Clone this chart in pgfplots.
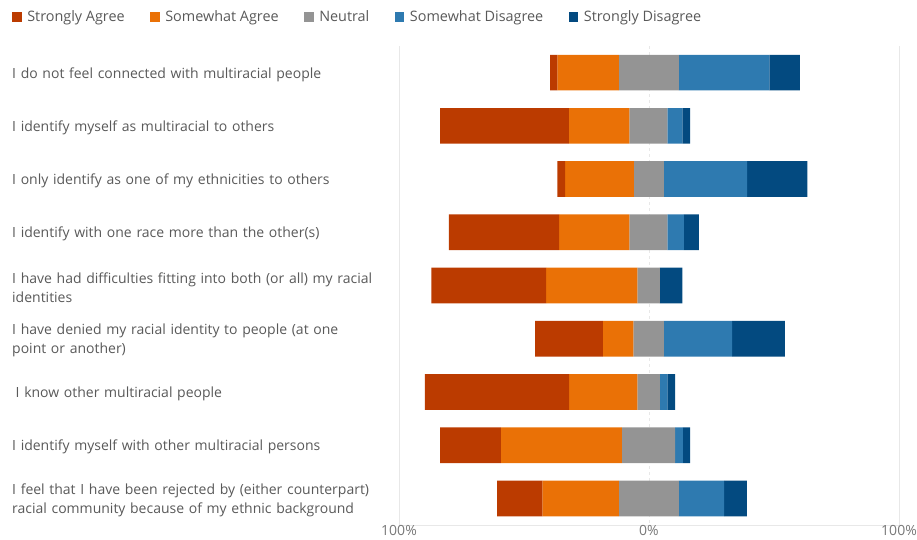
\documentclass[border=0pt]{standalone}
\usepackage{fontspec}
\setmainfont{Open Sans}
\usepackage{pgfplots}
\pgfplotsset{compat=1.18}
\usepackage{pgfplotstable}

\definecolor{csa}{RGB}{187,59,0}
\definecolor{ca}{RGB}{234,113,6}
\definecolor{cneu}{RGB}{148,148,148}
\definecolor{cswd}{RGB}{46,122,176}
\definecolor{csd}{RGB}{3,74,128}
\definecolor{lbl}{RGB}{89,89,89}
\definecolor{tick}{RGB}{120,120,120}
\definecolor{grd}{RGB}{232,232,232}

\pgfplotstableread{
y start SA A N SwD SD
1 -39.6 2.9 24.6 24.0 36.2 12.2
2 -83.6 51.5 24.2 15.2 6.0 3.1
3 -36.7 3.1 27.5 12.0 33.3 24.1
4 -80.1 44.1 28.1 15.2 6.6 6.0
5 -87.1 45.9 36.5 9.0 0 9.0
6 -45.6 27.1 12.2 12.2 27.3 21.1
7 -89.7 57.7 27.3 9.0 3.0 3.1
8 -83.6 24.3 48.4 21.3 3.1 2.9
9 -60.8 18.1 30.6 24.0 18.1 9.1
}\data

\begin{document}
\begin{tikzpicture}
\useasboundingbox (0,0) rectangle (917pt,-539pt);
\begin{axis}[
  at={(399pt,-525pt)}, anchor=south west,
  width=500pt, height=479pt, scale only axis,
  xmin=-100, xmax=100, ymin=0.5, ymax=9.5, y dir=reverse,
  xbar stacked, stack negative=on previous, bar width=35.7pt,
  axis x line*=bottom, axis y line*=left,
  x axis line style={draw=grd, line width=0.8pt, -},
  y axis line style={draw=none},
  xtick={-100,100}, xticklabels={100\%,100\%},
  extra x ticks={0}, extra x tick labels={0\%},
  extra x tick style={grid=major, major grid style={draw=grd, dashed, line width=0.8pt}},
  xmajorgrids, major grid style={draw=grd, line width=0.8pt},
  major tick length=0pt,
  xticklabel style={font=\fontsize{14}{16}\selectfont, text=tick, anchor=north, inner sep=0pt, yshift=-0.5pt},
  ytick={1,...,9},
  yticklabels={
    {I do not feel connected with multiracial people},
    {I identify myself as multiracial to others},
    {I only identify as one of my ethnicities to others},
    {I identify with one race more than the other(s)},
    {I have had difficulties fitting into both (or all) my racial\\identities},
    {I have denied my racial identity to people (at one\\point or another)},
    {\hspace*{3.5pt}I know other multiracial people},
    {I identify myself with other multiracial persons},
    {I feel that I have been rejected by (either counterpart)\\racial community because of my ethnic background}
  },
  yticklabel style={anchor=west, align=left, text width=385pt, inner sep=0pt, xshift=-387pt, yshift=-2pt,
    font=\fontsize{14}{19}\selectfont, text=lbl},
  legend columns=5,
  legend style={at={(-0.774,1.074)}, anchor=north west, draw=none, fill=none,
    font=\fontsize{14.4}{16}\selectfont, text=lbl, inner sep=0pt, nodes={inner sep=0pt},
    /tikz/every even column/.append style={column sep=25.5pt},
    /tikz/every odd column/.append style={column sep=5.5pt}},
  legend image code/.code={\fill[#1] (0pt,-4.8pt) rectangle (9.6pt,4.8pt);},
]
\addplot[draw=none, fill=none, forget plot] table[x=start, y=y]{\data};
\addplot[draw=none, fill=csa] table[x=SA, y=y]{\data};
\addplot[draw=none, fill=ca] table[x=A, y=y]{\data};
\addplot[draw=none, fill=cneu] table[x=N, y=y]{\data};
\addplot[draw=none, fill=cswd] table[x=SwD, y=y]{\data};
\addplot[draw=none, fill=csd] table[x=SD, y=y]{\data};
\legend{Strongly Agree, Somewhat Agree, Neutral, Somewhat Disagree, Strongly Disagree}
\end{axis}
\end{tikzpicture}
\end{document}
